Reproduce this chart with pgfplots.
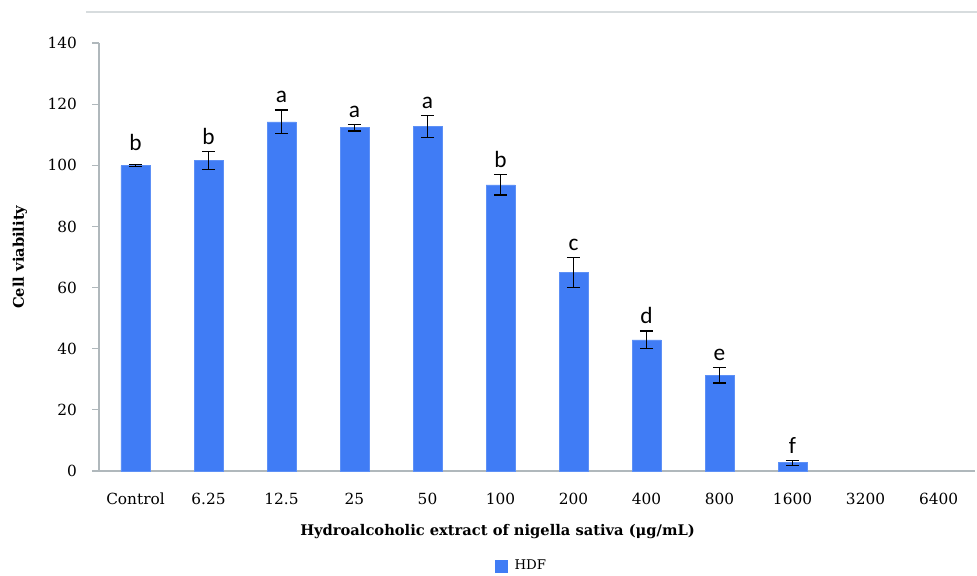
\documentclass[border=0pt]{standalone}
\usepackage{pgfplots}
\pgfplotsset{compat=1.18}
\usepackage{pgfplotstable}
\usepackage{fontspec}
\setmainfont{DejaVu Serif}
\newfontfamily\lettfont{Carlito}
\definecolor{barblue}{RGB}{64,124,245}
\definecolor{axgray}{RGB}{176,184,188}

\pgfplotstableread{
x y err
0 99.9 0.3
1 101.6 2.9
2 114.2 3.9
3 112.3 1.1
4 112.8 3.6
5 93.6 3.3
6 64.9 4.9
7 42.9 2.9
8 31.3 2.5
9 2.7 0.8
}\datatable

\pgfplotstableread{
x top lab
0 102.5 b
1 104.5 b
2 118.1 a
3 113.4 a
4 116.4 a
5 96.9 b
6 69.8 c
7 45.8 d
8 33.8 e
9 3.5 f
}\labtable

\begin{document}
\begin{tikzpicture}
\draw[axgray!50, line width=1pt] (-9.75pt,344.25pt) -- (658.5pt,344.25pt);
\begin{axis}[
 at={(0,0)}, anchor=south west,
 scale only axis, width=657pt, height=321pt,
 xmin=-0.5, xmax=11.5, ymin=0, ymax=140,
 axis x line=bottom, axis y line=left,
 axis line style={-, draw=axgray, line width=0.9pt},
 tick align=outside,
 /pgf/number format/assume math mode=true,
 xtick={0,...,11},
 xticklabels={Control,6.25,12.5,25,50,100,200,400,800,1600,3200,6400},
 x tick style={draw=none},
 major tick length=5pt,
 extra x ticks={-0.5,0.5,...,11.5},
 extra x tick labels={},
 extra x tick style={tick style={draw=axgray, line width=0.9pt}},
 ytick={0,20,...,140},
 y tick style={draw=axgray, line width=0.9pt},
 ticklabel style={font=\fontsize{11.5pt}{13pt}\selectfont},
 xticklabel style={yshift=-8pt},
 yticklabel style={xshift=-8pt},
 xlabel={\textbf{Hydroalcoholic extract of nigella sativa (μg/mL)}},
 xlabel style={at={(axis description cs:0.455,0)}, anchor=center, yshift=-45.75pt, font=\fontsize{11pt}{13pt}\selectfont},
 ylabel={\textbf{Cell viability}},
 ylabel style={at={(axis description cs:-0.0902,0.5)}, anchor=center, rotate=0, font=\fontsize{11pt}{13pt}\selectfont},
 legend style={at={(axis description cs:0.483,-0.222)}, anchor=center, draw=none, fill=none, font=\fontsize{10pt}{12pt}\selectfont},
 legend image code/.code={\fill[barblue] (0pt,-4.5pt) rectangle (9pt,4.5pt);},
 clip=false,
]
\addplot[ybar, bar width=21.75pt, fill=barblue, draw=barblue!85!white,
  error bars/.cd, y dir=both, y explicit,
  error bar style={black, line width=0.9pt},
  error mark options={rotate=90, mark size=5pt, black, line width=0.9pt}]
  table[x=x, y=y, y error=err] {\datatable};
\addlegendentry{\hspace{3pt}HDF}
\addplot[draw=none, mark=none, forget plot,
  nodes near coords, point meta=explicit symbolic,
  every node near coord/.style={anchor=south, inner sep=0pt, yshift=5pt, font=\lettfont\fontsize{17.5pt}{19pt}\selectfont, black}]
  table[x=x, y=top, meta=lab] {\labtable};
\end{axis}
\pgfresetboundingbox
\path[use as bounding box] (-74.25pt,-78pt) rectangle (658.5pt,353.25pt);
\end{tikzpicture}
\end{document}
